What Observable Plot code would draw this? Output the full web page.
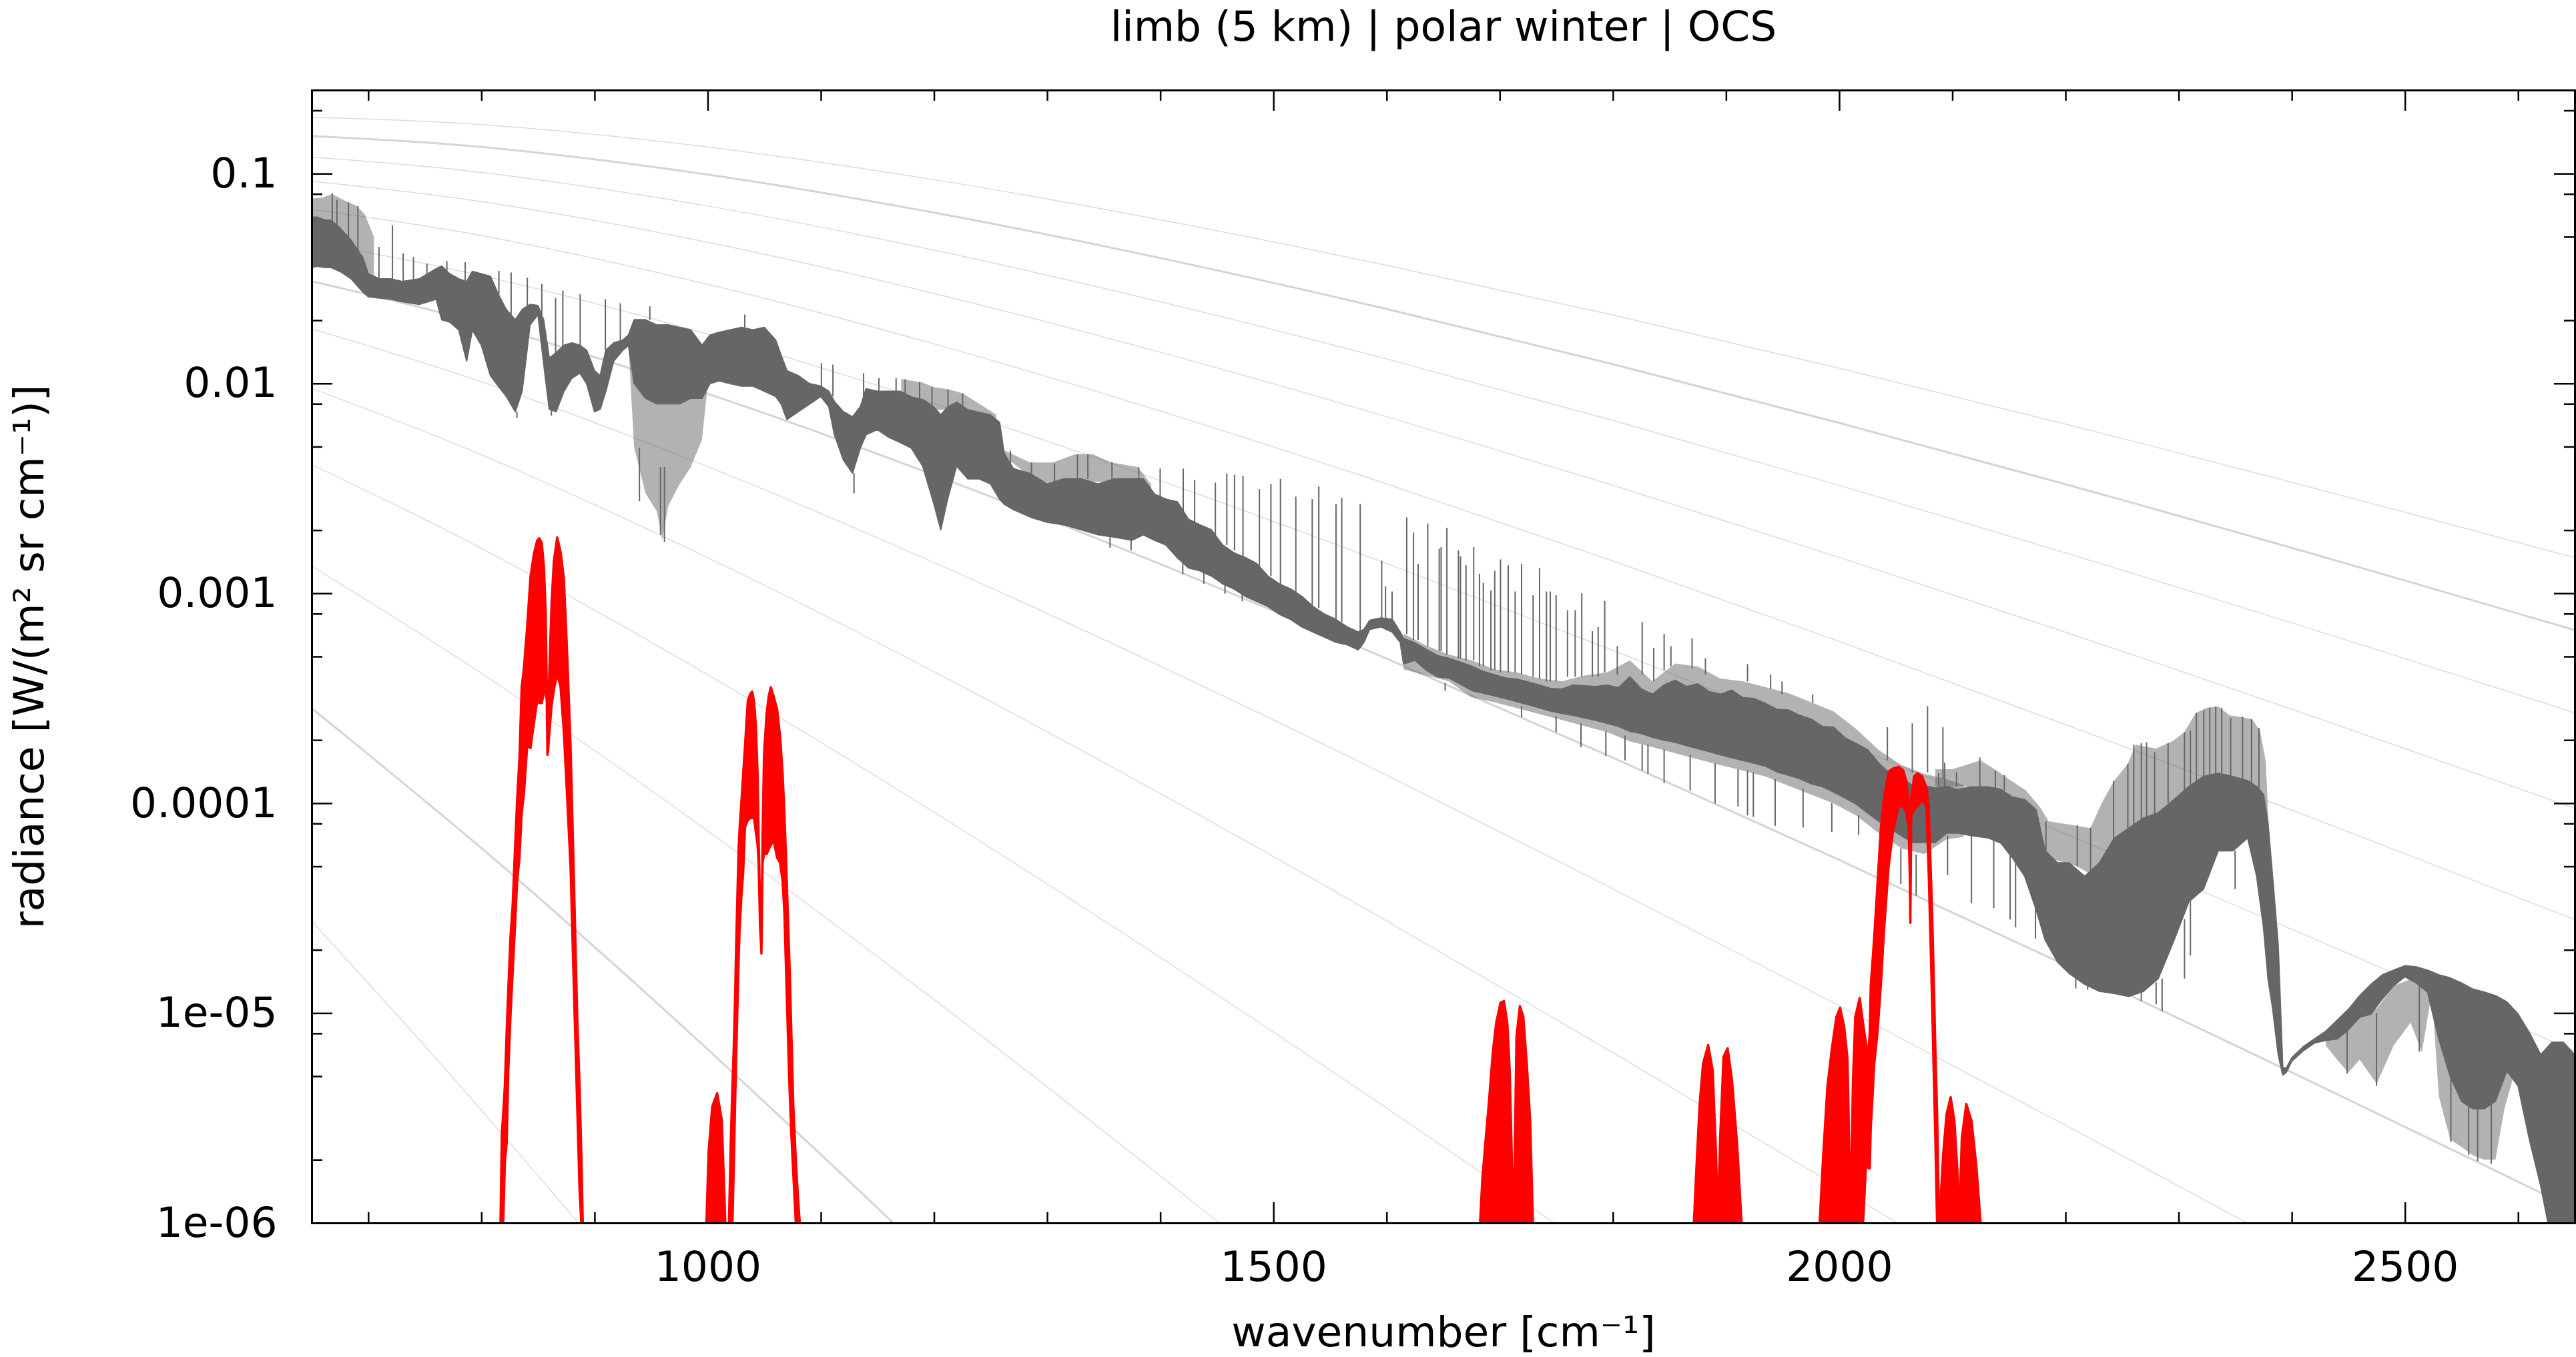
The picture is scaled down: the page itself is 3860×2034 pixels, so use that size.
<!DOCTYPE html>
<html><head><meta charset="utf-8">
<script src="https://cdn.jsdelivr.net/npm/d3@7"></script>
<script src="https://cdn.jsdelivr.net/npm/@observablehq/plot@0.6"></script>
<style>html,body{margin:0;padding:0;background:#fff;overflow:hidden}</style>
</head><body><div id="chart"></div>
<script>
// ---------- text ----------
const titleText = "limb (5 km) | polar winter | OCS";
const xLabelText = "wavenumber [cm⁻¹]";
const yLabelText = "radiance [W/(m² sr cm⁻¹)]";

// ---------- ticks ----------
const xMajor = [1000, 1500, 2000, 2500];
const xMinor = [700, 800, 900, 1100, 1200, 1300, 1400, 1600, 1700, 1800, 1900, 2100, 2200, 2300, 2400, 2600];
const yMajor = [1e-6, 1e-5, 1e-4, 1e-3, 1e-2, 0.1];
const yMajorLabels = ["1e-06", "1e-05", "0.0001", "0.001", "0.01", "0.1"];
const yMinor = [2e-6, 5e-6, 8e-6, 2e-5, 5e-5, 8e-5, 2e-4, 5e-4, 8e-4, 2e-3, 5e-3, 8e-3, 0.02, 0.05, 0.08, 0.2];

// ---------- reference curves (temperature in K), [wavenumber, radiance] ----------
const planck320 = [[650,0.1860],[800,0.1718],[1000,0.1343],[1200,0.09383],[1400,0.06044],[1600,0.03667],[1800,0.02124],[2000,0.01185],[2200,0.006418],[2400,0.003390],[2650,0.001483]];
const planck300 = [[650,0.1515],[800,0.1344],[1000,0.09922],[1200,0.06538],[1400,0.03970],[1600,0.02270],[1800,0.01238],[2000,0.006504],[2200,0.003318],[2400,0.001651],[2650,0.000670]];
const planck280 = [[650,0.1202],[800,0.1016],[1000,0.07027],[1200,0.04329],[1400,0.02457],[1600,0.01312],[1800,0.006681],[2000,0.003278],[2200,0.001562],[2400,0.0007257],[2650,0.0002703]];
const planck260 = [[650,0.09218],[800,0.07376],[1000,0.04723],[1200,0.02693],[1400,0.01412],[1600,0.006966],[1800,0.003280],[2000,0.001487],[2200,0.0006546],[2400,0.0002810],[2650,0.0000948]];
const planck240 = [[650,0.06779],[800,0.05082],[1000,0.02974],[1200,0.01547],[1400,0.007403],[1600,0.003331],[1800,0.001430],[2000,0.0005910],[2200,0.0002373],[2400,0.0000929],[2650,0.00002793]];
const planck220 = [[650,0.04726],[800,0.03276],[1000,0.01723],[1200,0.008043],[1400,0.003451],[1600,0.001392],[1800,0.0005362],[2000,0.0001988],[2200,0.00007155],[2400,0.00002512],[2650,0.00000659]];
const planck200 = [[650,0.03076],[800,0.01937],[1000,0.008951],[1200,0.003669],[1400,0.001381],[1600,0.0004893],[1800,0.0001652],[2000,0.00005375],[2200,0.00001697],[2400,0.000005225],[2650,0.000001165]];
const planck180 = [[650,0.01822],[800,0.01021],[1000,0.004023],[1200,0.001405],[1400,0.0004511],[1600,0.0001362],[1800,0.0000392],[2000,0.00001086],[2200,0.000002925],[2400,0.000000767]];
const planck160 = [[650,0.009493],[800,0.004585],[1000,0.001482],[1200,0.0004238],[1400,0.0001114],[1600,0.00002753],[1800,0.00000649],[2000,0.000001473],[2200,0.000000325]];
const planck140 = [[650,0.004111],[800,0.001640],[1000,0.0004098],[1200,0.0000907],[1400,0.00001844],[1600,0.00000353],[1800,0.000000642]];
const planck120 = [[650,0.001350],[800,0.0004164],[1000,0.00007388],[1200,0.00001161],[1400,0.000001676],[1600,0.000000227]];
const planck100 = [[650,0.0002838],[800,0.00006114],[900,0.00002064],[1000,0.00000672],[1100,0.000002121],[1200,0.000000654]];
const planck80  = [[650,0.0000274],[750,0.00000697],[850,0.00000168],[950,0.000000388]];
const planckTemps = [320, 300, 280, 260, 240, 220, 200, 180, 160, 140, 120, 100, 80];
const planckCurves = [planck320, planck300, planck280, planck260, planck240, planck220, planck200, planck180, planck160, planck140, planck120, planck100, planck80];
const planckBold = [300, 200, 100];

// ---------- simulated limb spectrum (grey): dense core [wavenumber, low, high] ----------
const greyCore = [
[650,0.0357,0.062],[655,0.0362,0.062],[662,0.0357,0.060],[667,0.0357,0.060],[675,0.0342,0.055],[685,0.0315,0.048],[695,0.0274,0.040],[700,0.0259,0.0333],[710,0.0255,0.0315],[720,0.0252,0.0315],[730,0.0245,0.0306],[745,0.0238,0.0315],[760,0.0252,0.0352],[765,0.0201,0.0362],[772,0.0196,0.0333],[780,0.0180,0.0315],[787,0.0128,0.0306],[792,0.0180,0.0342],[800,0.0152,0.0333],[808,0.0109,0.0324],[815,0.0097,0.0266],[822,0.00868,0.0225],[830,0.00733,0.0201],[836,0.00918,0.0225],[843,0.0190,0.0238],[850,0.0213,0.0235],[855,0.0125,0.0201],[860,0.00754,0.0132],[866,0.00733,0.0140],[873,0.00918,0.0152],[880,0.0106,0.0156],[887,0.0112,0.0152],[893,0.00998,0.0144],[900,0.00733,0.0115],[905,0.00754,0.0109],[910,0.00918,0.0144],[917,0.0128,0.0156],[925,0.0144,0.0161],[930,0.0152,0.0170],[935,0.0100,0.0201],[945,0.0085,0.0201],[955,0.0080,0.0190],[960,0.0080,0.0190],[965,0.0080,0.0190],[975,0.0080,0.0185],[985,0.0085,0.0180],[995,0.0085,0.0152],[1002,0.00998,0.0170],[1010,0.0103,0.0175],[1020,0.00998,0.0180],[1030,0.00971,0.0185],[1040,0.00971,0.0180],[1050,0.00918,0.0185],[1060,0.00868,0.0161],[1065,0.00798,0.0136],[1070,0.00674,0.0115],[1080,0.00733,0.0109],[1090,0.00798,0.00998],[1100,0.00868,0.00971],[1107,0.00776,0.00918],[1112,0.00570,0.00820],[1120,0.00431,0.00733],[1128,0.00374,0.00693],[1135,0.00495,0.00776],[1140,0.00570,0.00944],[1150,0.00603,0.00918],[1160,0.00554,0.00918],[1170,0.00524,0.00918],
[1180,0.00492,0.00861],[1190,0.00404,0.00838],[1200,0.00266,0.00770],[1206,0.00201,0.00708],[1212,0.00281,0.00770],[1220,0.00404,0.00814],[1230,0.00351,0.00749],[1240,0.00351,0.00728],[1250,0.00332,0.00708],[1258,0.00281,0.00651],[1262,0.00266,0.00465],[1270,0.00251,0.00393],[1285,0.00231,0.00372],[1300,0.00218,0.00332],[1315,0.00212,0.00351],[1330,0.00201,0.00351],[1345,0.00190,0.00332],[1360,0.00185,0.00351],[1375,0.00179,0.00351],[1385,0.00190,0.00351],[1395,0.00179,0.00297],[1405,0.00170,0.00281],[1415,0.00148,0.00273],[1425,0.00132,0.00225],[1435,0.00128,0.00212],[1445,0.00121,0.00201],[1455,0.00111,0.00170],[1465,0.00105,0.00156],[1475,0.000968,0.00148],[1485,0.000916,0.00139],[1495,0.000866,0.00121],[1505,0.000796,0.00111],[1515,0.000752,0.00105],[1525,0.000692,0.000968],[1535,0.000654,0.000866],[1545,0.000619,0.000796],[1555,0.000585,0.000752],[1565,0.000569,0.000692],[1575,0.000538,0.000654],[1580,0.000585,0.000673],[1585,0.000673,0.000742],[1595,0.000692,0.000763],[1605,0.000654,0.000752],[1612,0.000585,0.000654],
[1615,0.000460,0.000610],[1625,0.000480,0.000580],[1635,0.000430,0.000540],[1645,0.000400,0.000505],[1655,0.000395,0.000490],[1665,0.000370,0.000470],[1675,0.000345,0.000450],[1685,0.000335,0.000425],[1695,0.000325,0.000410],[1705,0.000315,0.000395],[1715,0.000305,0.000390],[1725,0.000295,0.000378],[1735,0.000285,0.000365],[1745,0.000275,0.000352],[1755,0.000268,0.000350],[1765,0.000262,0.000365],[1775,0.000255,0.000362],[1785,0.000248,0.000360],[1795,0.000240,0.000365],[1805,0.000232,0.000355],[1815,0.000220,0.000400],[1825,0.000215,0.000350],[1835,0.000206,0.000330],[1845,0.000200,0.000365],[1855,0.000195,0.000385],[1865,0.000188,0.000360],[1875,0.000182,0.000370],[1885,0.000176,0.000340],[1895,0.000170,0.000330],[1905,0.000165,0.000345],[1915,0.000160,0.000318],[1925,0.000155,0.000315],[1935,0.000150,0.000298],[1945,0.000141,0.000280],[1955,0.000136,0.000278],[1965,0.000131,0.000262],[1975,0.000124,0.000252],[1985,0.000120,0.000232],[1995,0.000113,0.000230],[2005,0.000106,0.000205],[2015,0.0000990,0.000192],[2025,0.0000900,0.000180],[2035,0.0000820,0.000155],[2045,0.0000760,0.000138],[2055,0.0000700,0.000132],[2065,0.0000650,0.000121],[2075,0.0000650,0.000121],[2085,0.0000650,0.000118],[2095,0.0000720,0.000120],[2105,0.0000720,0.000116],
[2116,0.0000702,0.0001195],[2132,0.0000683,0.0001195],[2143,0.0000645,0.000116],[2153,0.000055,0.000107],[2164,0.0000448,0.000104],[2174,0.0000312,0.000093],[2182,0.0000223,0.0000593],[2193,0.0000175,0.000052],[2203,0.0000155,0.000052],[2217,0.0000137,0.0000448],[2230,0.0000127,0.000052],[2243,0.0000124,0.000068],[2256,0.000012,0.000076],[2269,0.0000127,0.000085],[2282,0.0000146,0.000090],[2296,0.0000223,0.000104],[2309,0.0000339,0.000120],[2322,0.000039,0.000134],[2335,0.0000593,0.000139],[2348,0.0000593,0.000134],[2361,0.0000683,0.000128],[2369,0.0000448,0.000120],[2375,0.0000256,0.000110],[2379,0.0000146,0.000080],[2383,0.0000106,0.0000448],[2388,0.00000634,0.000021],[2392,0.00000507,0.00000552],[2395,0.0000052,0.00000545],[2400,0.0000059,0.00000612],[2410,0.0000066,0.0000069],[2420,0.0000072,0.00000752],[2430,0.0000074,0.00000819],[2440,0.00000752,0.00000923],[2450,0.00000833,0.0000104],[2460,0.00000955,0.0000121],[2470,0.00000989,0.0000137],[2480,0.0000117,0.0000152],[2490,0.0000135,0.000016],[2500,0.0000149,0.0000168],[2510,0.0000139,0.0000166],[2520,0.0000126,0.000016],[2530,0.0000075,0.0000152],[2540,0.0000050,0.0000147],[2550,0.0000038,0.0000139],[2560,0.0000035,0.000013],[2570,0.0000035,0.0000126],[2580,0.0000038,0.0000121],[2590,0.0000053,0.0000113],[2600,0.0000045,0.00000989],[2610,0.0000025,0.00000805],[2620,0.0000015,0.00000633],[2630,0.0000008,0.00000726],[2640,0.0000008,0.00000726],[2650,0.0000008,0.00000633]
];

// partially filled comb regions of the grey spectrum [wavenumber, low, high]
const greyCombA = [[650,0.050,0.076],[660,0.050,0.077],[668,0.050,0.080],[680,0.045,0.074],[690,0.040,0.070],[697,0.035,0.064],[705,0.030,0.050]];
const greyCombB = [[930,0.0152,0.0152],[935,0.00495,0.0105],[945,0.00300,0.0090],[955,0.00246,0.0085],[960,0.00180,0.0085],[965,0.00260,0.0085],[975,0.00330,0.0085],[985,0.00400,0.0090],[995,0.00540,0.0090],[1000,0.0099,0.0099]];
const greyCombC = [[1171,0.0080,0.0105],[1190,0.0080,0.0101],[1200,0.0075,0.0096],[1212,0.0075,0.0094],[1225,0.0073,0.0090],[1240,0.0070,0.0080],[1255,0.0065,0.0071]];
const greyCombD = [[1262,0.0045,0.0048],[1285,0.0036,0.0042],[1305,0.0033,0.0042],[1325,0.0034,0.0046],[1340,0.0034,0.0046],[1357,0.0034,0.0042],[1380,0.0034,0.0040],[1392,0.0030,0.0033]];
const greyCombE = [[2085,0.00012,0.000145],[2100,0.00012,0.000145],[2125,0.00012,0.00016],[2140,0.00011,0.000142],[2150,0.0001,0.00013],[2165,0.000095,0.000115],[2178,0.00007,0.000095],[2185,0.000055,0.000082],[2210,0.00005,0.000078],[2222,0.000046,0.000076],[2232,0.000052,0.0001],[2243,0.000068,0.000128],[2255,0.000075,0.000154],[2262,0.00008,0.00019],[2280,0.000088,0.000182],[2295,0.0001,0.000198],[2305,0.000115,0.000218],[2315,0.000125,0.000269],[2325,0.000135,0.000285],[2335,0.000139,0.000289],[2345,0.000135,0.000262],[2355,0.00013,0.000258],[2365,0.000125,0.000251],[2372,0.000115,0.000221],[2377,0.00009,0.000158],[2382,0.000035,0.000039]];
const greyCombF = [[2430,0.0000070,0.0000074],[2440,0.0000060,0.0000075],[2450,0.0000052,0.0000083],[2460,0.0000060,0.0000095],[2475,0.0000046,0.0000105],[2490,0.0000070,0.0000135],[2505,0.000009,0.0000145],[2515,0.0000065,0.0000135],[2522,0.000011,0.000012]];
const greyCombG = [[2525,0.00001,0.00001],[2530,0.000004,0.0000075],[2540,0.0000025,0.0000065],[2550,0.0000023,0.000006],[2560,0.0000021,0.0000058],[2570,0.000002,0.0000058],[2580,0.000002,0.0000058],[2588,0.0000035,0.0000055],[2595,0.0000048,0.000005]];
const greyCombH = [[1615,0.000434,0.000642],[1635,0.000406,0.000563],[1655,0.000381,0.000511],[1675,0.000320,0.000479],[1695,0.000303,0.000434],[1715,0.000284,0.000420],[1735,0.000266,0.000393],[1755,0.000249,0.000381],[1775,0.000233,0.000406],[1795,0.000218,0.000420],[1815,0.000197,0.000479],[1835,0.000185,0.000381],[1855,0.000173,0.000463],[1875,0.000162,0.000448],[1895,0.000152,0.000393],[1915,0.000143,0.000381],[1935,0.000134,0.000357],[1955,0.000121,0.000334],[1975,0.000110,0.000303],[1995,0.0000997,0.000274],[2015,0.0000874,0.000226],[2035,0.000072,0.000179],[2055,0.000061,0.000152],[2075,0.0000572,0.000138],[2095,0.0000673,0.000130],[2110,0.0000690,0.000122]];

// isolated spectral lines of the grey spectrum [wavenumber, low, high]
const greyLines = [
[667.9,0.0536,0.0804],[672.0,0.0521,0.0750],[682.2,0.0478,0.0729],[690.6,0.0428,0.0700],
[709.2,0.0315,0.0447],[721.1,0.0315,0.0567],[730.6,0.0306,0.0417],[739.7,0.0306,0.0400],[751.6,0.0315,0.0372],[769.2,0.0333,0.0383],[785.4,0.0306,0.0378],[815.2,0.0266,0.0344],[826.0,0.0213,0.0338],[840.3,0.0231,0.0319],[853.1,0.0213,0.0298],[865.3,0.0136,0.0255],[871.7,0.0144,0.0277],[887.0,0.0152,0.0266],[909.3,0.0144,0.0252],[922.5,0.0161,0.0241],[948.6,0.0201,0.0233],[1032.5,0.0185,0.0213],[1100.2,0.00971,0.0125],[1110.4,0.00868,0.0123],[1137.5,0.00776,0.0112],[1151.0,0.00918,0.0106],[1166.2,0.00918,0.0106],
[831.1,0.00684,0.00733],[861.6,0.00703,0.00754],[939.4,0.00275,0.00495],[958.0,0.00190,0.0040],[961.5,0.00176,0.0040],[1129.0,0.00299,0.00374],
[1174.2,0.00814,0.01048],[1187.0,0.00838,0.01019],[1197.9,0.00770,0.00963],[1212.1,0.00770,0.00937],[1225.0,0.00770,0.00898],[1267.3,0.00393,0.00478],[1285.9,0.00372,0.00421],[1306.2,0.00340,0.00416],[1326.5,0.00351,0.00459],[1335.7,0.00351,0.00459],[1357.0,0.00351,0.00421],[1380.7,0.00351,0.00399],[1399.6,0.00289,0.00393],[1420.0,0.00245,0.00393],[1430.1,0.00215,0.00347],[1448.4,0.00190,0.00337],[1458.5,0.00170,0.00372],[1465.3,0.00160,0.00367],[1472.8,0.00150,0.00363],[1487.3,0.00135,0.00314],[1497.5,0.00121,0.00332],[1505.9,0.00111,0.00351],[1519.5,0.00100,0.00289],[1534.0,0.00087,0.00281],[1539.8,0.00085,0.00323],[1555.0,0.000752,0.00266],[1560.1,0.00073,0.00285],[1576.4,0.000654,0.00266],
[1355.3,0.00165,0.00185],[1373.9,0.00160,0.00179],[1419.6,0.00123,0.00148],[1438.2,0.00111,0.00128],[1456.9,0.000996,0.00111],[1472.1,0.000916,0.00100],[1651.5,0.000343,0.000374],
[1595.4,0.00076,0.00143],[1598.8,0.00076,0.00108],[1604.6,0.00075,0.00102],[1617.5,0.00064,0.00230],[1623.5,0.00060,0.00195],[1627.6,0.00060,0.00138],[1636.1,0.00056,0.00215],[1646.2,0.00053,0.00163],[1647.9,0.00053,0.00166],[1653.0,0.00051,0.00205],[1663.2,0.00049,0.00160],[1665.0,0.00049,0.00150],[1669.9,0.00048,0.00136],[1676.7,0.00048,0.00166],[1681.8,0.00045,0.00124],[1685.2,0.00045,0.00112],[1691.9,0.00043,0.00103],[1695.3,0.00043,0.00128],[1700.4,0.00042,0.00145],[1707.2,0.00042,0.00136],[1713.3,0.00042,0.00102],[1719.0,0.00041,0.00138],[1729.2,0.00040,0.00098],[1734.9,0.00039,0.00132],[1741.0,0.00038,0.00102],[1744.4,0.00038,0.00102],[1749.5,0.00038,0.00098],[1759.6,0.00040,0.00083],[1766.4,0.00040,0.00083],[1772.2,0.00040,0.00100],[1781.6,0.00040,0.00066],[1786.7,0.00040,0.00069],[1792.5,0.00042,0.00092],[1803.6,0.00041,0.00056],[1825.6,0.00041,0.00073],[1835.8,0.00038,0.00055],[1845.0,0.00043,0.00064],[1851.0,0.00045,0.00056],[1869.7,0.00044,0.00061],[1881.5,0.00041,0.00049],[1918.7,0.00038,0.00046],[1939.1,0.00035,0.00041],[1949.2,0.00033,0.00038],[1976.3,0.00030,0.00033],[2042.3,0.00016,0.00023],[2064.3,0.00014,0.00024],[2077.8,0.00014,0.00029],[2091.4,0.00013,0.00023],
[1719.0,0.000257,0.00029],[1749.5,0.000218,0.00026],[1771.5,0.000185,0.00024],[1793.5,0.000168,0.00022],[1810.4,0.000160,0.00021],[1825.6,0.000143,0.00019],[1830.7,0.000138,0.00019],[1845.0,0.000125,0.00018],[1868.0,0.000115,0.00017],[1890.0,0.0000997,0.000155],[1910.3,0.0000964,0.000145],[1918.7,0.0000874,0.000143],[1923.8,0.000086,0.00014],[1943.1,0.000078,0.00013],[1967.8,0.0000767,0.000117],[1993.2,0.000073,0.0001],[2016.9,0.0000707,0.0000874],[2037.2,0.0000518,0.000072],[2054.2,0.0000412,0.000061],[2062.6,0.000027,0.000057],[2067.7,0.0000362,0.000057],
[2087.6,0.000120,0.000139],[2092.9,0.000120,0.000156],[2103.4,0.000120,0.000141],[2124.0,0.000120,0.000165],[2137.7,0.000118,0.000143],[2145.6,0.000115,0.000136],[2182.4,0.0000593,0.0000819],[2210.1,0.000050,0.0000785],[2221.9,0.000046,0.0000764],[2242.2,0.000068,0.000128],[2254.8,0.000076,0.000154],[2260.1,0.000078,0.000190],[2266.7,0.000080,0.000193],[2271.4,0.000085,0.000195],[2278.5,0.000088,0.000175],[2290.4,0.000100,0.000193],[2304.9,0.000115,0.000218],[2310.1,0.000120,0.000221],[2315.4,0.000125,0.000269],[2322.0,0.000134,0.000277],[2327.2,0.000136,0.000285],[2332.5,0.000139,0.000289],[2337.8,0.000139,0.000285],[2345.7,0.000135,0.000255],[2356.2,0.000130,0.000258],[2364.1,0.000125,0.000251],[2370.7,0.000118,0.000228],
[2095.5,0.0000455,0.00007],[2116.6,0.0000334,0.00007],[2136.3,0.0000316,0.000068],[2150.8,0.0000279,0.00006],[2155.6,0.0000256,0.000055],[2173.2,0.0000226,0.000035],[2208.8,0.0000131,0.000016],[2219.3,0.0000129,0.000014],[2266.7,0.0000114,0.0000127],[2279.8,0.000011,0.000014],[2285.1,0.0000102,0.0000146],[2304.9,0.0000146,0.000028],[2310.1,0.0000188,0.000034],[2349.6,0.000039,0.0000593],
[2448.6,0.00000515,0.0000083],[2474.6,0.0000045,0.00001],[2512.4,0.00000655,0.0000139],[2540.3,0.00000243,0.0000065],[2556,0.00000211,0.000006],[2564,0.00000197,0.0000058],[2576,0.00000191,0.0000058]
];

// ---------- OCS contribution (red) bands [wavenumber, low, high] ----------
const ocsBand1 = [[816.9,1e-6,1e-6],[818.1,1e-6,2.66e-6],[819.3,1e-6,3.32e-6],[820.8,1.98e-6,4.58e-6],[822.4,2.41e-6,8.30e-6],[823.8,5.32e-6,1.30e-5],[825.7,9.63e-6,2.29e-5],[827.7,1.58e-5,3.32e-5],[829.7,2.59e-5,6.01e-5],[831.6,4.25e-5,1.04e-4],[833.6,5.44e-5,1.62e-4],[835.6,8.93e-5,3.57e-4],[837.5,1.09e-4,4.35e-4],[840.5,1.88e-4,6.97e-4],[843.4,1.83e-4,1.201e-3],[846.4,2.40e-4,1.538e-3],[849.3,3.08e-4,1.784e-3],[851.3,3.00e-4,1.829e-3],[853.3,3.00e-4,1.740e-3],[855.2,3.32e-4,1.359e-3],[856.8,3.48e-4,8.29e-4],[857.8,3.08e-4,3.57e-4],[858.4,1.70e-4,1.88e-4],[859.0,1.79e-4,2.53e-4],[860.1,2.18e-4,4.35e-4],[862.1,2.93e-4,9.15e-4],[864.1,3.48e-4,1.428e-3],[867.0,4.14e-4,1.847e-3],[870.0,3.57e-4,1.576e-3],[872.9,2.18e-4,1.172e-3],[875.9,1.04e-4,5.05e-4],[878.8,5.0e-5,1.88e-4],[880.8,2.0e-5,6.97e-5],[882.8,8.3e-6,2.59e-5],[884.7,3.58e-6,9.63e-6],[886.7,1.47e-6,4.58e-6],[888.3,1e-6,2.18e-6],[889.6,1e-6,1e-6]];
const ocsBand2 = [[998.9,1e-6,1e-6],[1000.8,1e-6,2.18e-6],[1004.0,1e-6,3.58e-6],[1008.4,1e-6,4.15e-6],[1012.5,1e-6,3.08e-6],[1015.6,1e-6,1e-6]];
const ocsBand3 = [[1018.8,1e-6,1e-6],[1020.4,1e-6,2.41e-6],[1021.9,1e-6,4.58e-6],[1022.9,1.70e-6,6.48e-6],[1024.2,3.58e-6,1.17e-5],[1025.1,5.87e-6,2.02e-5],[1026.1,9.63e-6,3.32e-5],[1027.3,1.74e-5,6.01e-5],[1028.3,2.59e-5,7.70e-5],[1029.9,3.66e-5,1.04e-4],[1031.4,4.70e-5,1.39e-4],[1033.0,7.70e-5,1.88e-4],[1035.5,8.30e-5,3.08e-4],[1037.7,8.50e-5,3.32e-4],[1039.3,8.50e-5,3.40e-4],[1040.9,8.50e-5,3.08e-4],[1042.5,7.33e-5,2.40e-4],[1044.1,6.32e-5,1.39e-4],[1045.0,5.19e-5,6.97e-5],[1046.3,2.59e-5,3.32e-5],[1047.5,1.92e-5,2.02e-5],[1048.5,5.19e-5,6.97e-5],[1049.8,5.72e-5,1.70e-4],[1052.0,5.72e-5,2.65e-4],[1053.9,6.01e-5,3.23e-4],[1055.8,6.32e-5,3.57e-4],[1058.3,6.64e-5,3.23e-4],[1061.4,5.5e-5,2.79e-4],[1064.0,5.19e-5,2.07e-4],[1066.2,4.25e-5,1.39e-4],[1067.8,3.01e-5,8.93e-5],[1069.3,1.58e-5,5.44e-5],[1070.9,7.90e-6,2.87e-5],[1072.5,4.15e-6,1.58e-5],[1074.1,2.53e-6,7.52e-6],[1075.7,1.70e-6,3.58e-6],[1077.9,1e-6,1.98e-6],[1079.8,1e-6,1.33e-6],[1081.4,1e-6,1e-6]];
const ocsBand4 = [[1682.6,1e-6,1e-6],[1684.7,1e-6,1.64e-6],[1687.7,1e-6,2.55e-6],[1690.8,1e-6,3.97e-6],[1693.8,1e-6,6.42e-6],[1696.8,1e-6,8.95e-6],[1700.7,1e-6,1.12e-5],[1703.7,1e-6,1.14e-5],[1706.7,1e-6,8.95e-6],[1708.8,1e-6,5.34e-6],[1710.6,1e-6,2.12e-6],[1711.8,1e-6,1e-6],[1713.3,1e-6,2.12e-6],[1714.8,1e-6,7.73e-6],[1717.8,1e-6,1.08e-5],[1720.8,1e-6,9.64e-6],[1723.9,1e-6,5.74e-6],[1726.9,1e-6,3.07e-6],[1729.3,1e-6,1e-6]];
const ocsBand5 = [[1871.6,1e-6,1e-6],[1873.7,1e-6,1.77e-6],[1876.7,1e-6,3.69e-6],[1879.7,1e-6,5.74e-6],[1884.2,1e-6,7.04e-6],[1888.2,1e-6,5.34e-6],[1891.2,1e-6,2.12e-6],[1892.7,1e-6,1e-6],[1894.8,1e-6,2.55e-6],[1897.8,1e-6,6.19e-6],[1901.4,1e-6,6.79e-6],[1905.3,1e-6,4.77e-6],[1909.8,1e-6,2.37e-6],[1913.7,1e-6,1e-6]];
const ocsBand6 = [[1982.7,1e-6,1e-6],[1985.7,1e-6,2.02e-6],[1989.6,1e-6,4.47e-6],[1993.5,1e-6,6.76e-6],[1997.5,1e-6,9.55e-6],[2000.8,1e-6,1.06e-5],[2004.4,1e-6,8.61e-6],[2007.3,1e-6,6.10e-6],[2008.3,1e-6,3.39e-6],[2009.3,1e-6,1.43e-6],[2009.9,1e-6,1e-6],[2010.6,1e-6,1.70e-6],[2012.2,1e-6,4.79e-6],[2014.2,1e-6,9.55e-6],[2018.1,1e-6,1.18e-5],[2021.1,1e-6,8.92e-6],[2024.0,2.02e-6,7.00e-6],[2026.0,1.82e-6,6.76e-6],[2027.0,1.82e-6,8.04e-6],[2027.9,2.85e-6,1.35e-5],[2029.5,4.03e-6,1.78e-5],[2030.9,5.69e-6,2.27e-5],[2033.8,8.04e-6,4.08e-5],[2036.8,1.35e-5,7.60e-5],[2039.7,2.51e-5,1.073e-4],[2043.7,5.02e-5,1.414e-4],[2047.6,7.34e-5,1.464e-4],[2052.5,9.67e-5,1.490e-4],[2056.5,9.67e-5,1.439e-4],[2059.4,9.03e-5,1.275e-4],[2061.4,7.60e-5,1.001e-4],[2062.4,4.52e-5,5.38e-5],[2062.9,2.69e-5,2.75e-5],[2063.7,8.72e-5,1.073e-4],[2066.3,9.34e-5,1.343e-4],[2069.2,9.67e-5,1.390e-4],[2073.2,1.036e-4,1.343e-4],[2077.1,9.67e-5,1.190e-4],[2079.1,4.68e-5,9.67e-5],[2080.6,2.34e-5,5.38e-5],[2082.0,1.19e-5,3.20e-5],[2083.4,5.69e-6,1.60e-5],[2085.0,2.5e-6,6.76e-6],[2086.5,1e-6,3.39e-6],[2087.5,1e-6,1.70e-6],[2088.5,1e-6,1e-6]];
const ocsBand7 = [[2088.5,1e-6,1e-6],[2091.9,1e-6,2.12e-6],[2094.9,1e-6,3.30e-6],[2098.5,1e-6,3.97e-6],[2101.8,1e-6,3.07e-6],[2104.5,1e-6,1.77e-6],[2106.0,1e-6,1e-6],[2108.4,1e-6,2.55e-6],[2112.3,1e-6,3.69e-6],[2116.9,1e-6,3.07e-6],[2121.1,1e-6,1.90e-6],[2125.0,1e-6,1e-6]];

// ---------- build tables for the library ----------
const toRows = (arr, id) => arr.map(([nu, lo, hi]) => ({nu, lo, hi, id}));
const planckRows = planckCurves.flatMap((c, k) => c.map(([nu, r]) => ({nu, r, T: planckTemps[k]})));
const coreRows = toRows(greyCore, 0);
const combRows = [greyCombA, greyCombB, greyCombC, greyCombD, greyCombE, greyCombF, greyCombG, greyCombH].flatMap((a, k) => toRows(a, k));
const lineRows = toRows(greyLines, 0);
const ocsRows = [ocsBand1, ocsBand2, ocsBand3, ocsBand4, ocsBand5, ocsBand6, ocsBand7].flatMap((a, k) => toRows(a, k));

const W = 3860, H = 2034, mL = 467, mR = 2, mT = 135, mB = 201;
const fw = W - mL - mR, fh = H - mT - mB;
const FS = 63, GREY = "#666666";
const tickStyle = {stroke: "#000", strokeWidth: 2.5};

const chart = Plot.plot({
  width: W, height: H,
  marginLeft: mL, marginRight: mR, marginTop: mT, marginBottom: mB,
  style: {fontFamily: "'DejaVu Sans', sans-serif", background: "#fff", color: "#000"},
  x: {type: "linear", domain: [650, 2650], axis: null},
  y: {type: "log", domain: [1e-6, 0.25], axis: null},
  marks: [
    // reference curves
    Plot.line(planckRows.filter(d => !planckBold.includes(d.T)), {x: "nu", y: "r", z: "T", stroke: "#dcdcdc", strokeWidth: 1.5, curve: "catmull-rom", clip: true}),
    Plot.line(planckRows.filter(d => planckBold.includes(d.T)), {x: "nu", y: "r", z: "T", stroke: "#d4d4d4", strokeWidth: 3, curve: "catmull-rom", clip: true}),
    // ticks (inward, mirrored)
    Plot.tickY(yMajor, {y: d => d, insetRight: fw - 31, ...tickStyle}),
    Plot.tickY(yMajor, {y: d => d, insetLeft: fw - 31, ...tickStyle}),
    Plot.tickY(yMinor, {y: d => d, insetRight: fw - 16, ...tickStyle}),
    Plot.tickY(yMinor, {y: d => d, insetLeft: fw - 16, ...tickStyle}),
    Plot.tickX(xMajor, {x: d => d, insetTop: fh - 31, ...tickStyle}),
    Plot.tickX(xMajor, {x: d => d, insetBottom: fh - 31, ...tickStyle}),
    Plot.tickX(xMinor, {x: d => d, insetTop: fh - 16, ...tickStyle}),
    Plot.tickX(xMinor, {x: d => d, insetBottom: fh - 16, ...tickStyle}),
    // grey spectrum
    Plot.areaY(combRows, {x: "nu", y1: "lo", y2: "hi", z: "id", fill: GREY, fillOpacity: 0.5, clip: true}),
    Plot.areaY(coreRows, {x: "nu", y1: "lo", y2: "hi", fill: GREY, stroke: GREY, strokeWidth: 2, clip: true}),
    Plot.ruleX(lineRows, {x: "nu", y1: "lo", y2: "hi", stroke: GREY, strokeWidth: 2, clip: true}),
    // OCS
    Plot.areaY(ocsRows, {x: "nu", y1: "lo", y2: "hi", z: "id", fill: "#ff0000", stroke: "#ff0000", strokeWidth: 3.5, strokeLinejoin: "round", clip: true}),
    // frame
    Plot.frame({stroke: "#000", strokeWidth: 3}),
    // labels
    Plot.text(yMajor, {y: d => d, text: (d, i) => yMajorLabels[i], frameAnchor: "left", dx: -52, textAnchor: "end", lineAnchor: "middle", fontSize: FS}),
    Plot.text(xMajor, {x: d => d, text: d => String(d), frameAnchor: "bottom", dy: 42, lineAnchor: "top", fontSize: FS}),
    Plot.text([titleText], {text: d => d, frameAnchor: "top", dy: -119, textAnchor: "middle", lineAnchor: "top", fontSize: FS}),
    Plot.text([xLabelText], {text: d => d, frameAnchor: "bottom", dy: 140, textAnchor: "middle", lineAnchor: "top", fontSize: FS}),
    Plot.text([yLabelText], {text: d => d, frameAnchor: "left", dx: -423, rotate: -90, textAnchor: "middle", lineAnchor: "middle", fontSize: FS})
  ]
});
document.getElementById("chart").append(chart);
</script>
</body></html>
